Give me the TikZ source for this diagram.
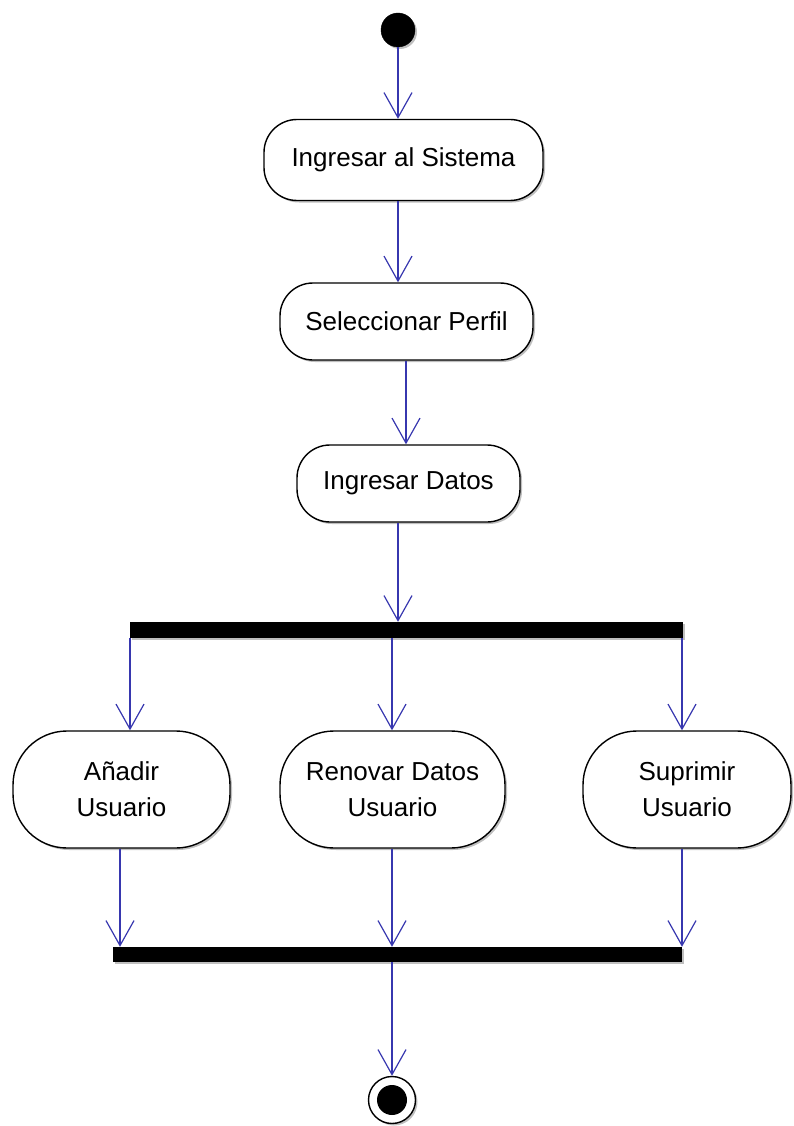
\documentclass[tikz,border=0pt]{standalone}
\usepackage{fontspec}
\setmainfont{Liberation Sans}
\usetikzlibrary{arrows.meta,shadows}
\definecolor{flowblue}{RGB}{55,55,175}
\begin{document}
\begin{tikzpicture}[x=1pt,y=-1pt,
  shade/.style={drop shadow={shadow xshift=2pt,shadow yshift=-2pt,opacity=0.25,fill=black}},
  act/.style={draw=black,line width=1.4pt,fill=white,align=center,inner sep=0pt,
    font=\fontsize{26}{36}\selectfont,shade},
  actsmall/.style={act,rounded corners=33pt},
  actbig/.style={act,rounded corners=54pt,minimum height=117pt},
  bar/.style={fill=black,draw=none,inner sep=0pt,shade},
  flow/.style={draw=flowblue,line width=1.2pt,
    -{Straight Barb[length=25pt,width=28pt,line width=1.2pt]}}
]
\useasboundingbox (0,0) rectangle (793,1126);

% initial and final states
\node[circle,fill=black,draw=black,inner sep=0pt,minimum size=34pt,shade] (start) at (398,30) {};
\node[circle,fill=white,draw=black,line width=1.4pt,inner sep=0pt,minimum size=47pt,shade] (end) at (392,1100) {};
\node[circle,fill=black,inner sep=0pt,minimum size=30pt] (endcore) at (end) {};

% actions
\node[actsmall,minimum width=279pt,minimum height=81pt] (sistema) at (403.5,160) {Ingresar al Sistema};
\node[actsmall,minimum width=253pt,minimum height=77pt] (perfil) at (406.5,321.5) {Seleccionar Perfil};
\node[actsmall,minimum width=223pt,minimum height=77pt] (datos) at (408.5,483.5) {Ingresar Datos};
\node[actbig,minimum width=217pt] (anadir) at (121.5,789.5) {Añadir\\Usuario};
\node[actbig,minimum width=225pt] (renovar) at (392.5,789.5) {Renovar Datos\\Usuario};
\node[actbig,minimum width=208pt] (suprimir) at (687,789.5) {Suprimir\\Usuario};

% fork and join bars
\node[bar,minimum width=553pt,minimum height=16pt] (fork) at (406.5,630) {};
\node[bar,minimum width=569pt,minimum height=15pt] (join) at (397.5,954.5) {};

% connector columns
\coordinate (xa) at (398,0);
\coordinate (xb) at (406,0);
\coordinate (xl) at (130,0);
\coordinate (xm) at (392,0);
\coordinate (xr) at (682,0);
\coordinate (xl2) at (120,0);

% flows
\draw[flow] (start) -- (sistema.north -| xa);
\draw[flow] (sistema.south -| xa) -- (perfil.north -| xa);
\draw[flow] (perfil.south -| xb) -- (datos.north -| xb);
\draw[flow] (datos.south -| xa) -- (fork.north -| xa);
\draw[flow] (fork.south -| xl) -- (anadir.north -| xl);
\draw[flow] (fork.south -| xm) -- (renovar.north -| xm);
\draw[flow] (fork.south -| xr) -- (suprimir.north -| xr);
\draw[flow] (anadir.south -| xl2) -- (join.north -| xl2);
\draw[flow] (renovar.south -| xm) -- (join.north -| xm);
\draw[flow] (suprimir.south -| xr) -- (join.north -| xr);
\draw[flow] (join.south -| xm) -- (end.north);
\end{tikzpicture}
\end{document}
